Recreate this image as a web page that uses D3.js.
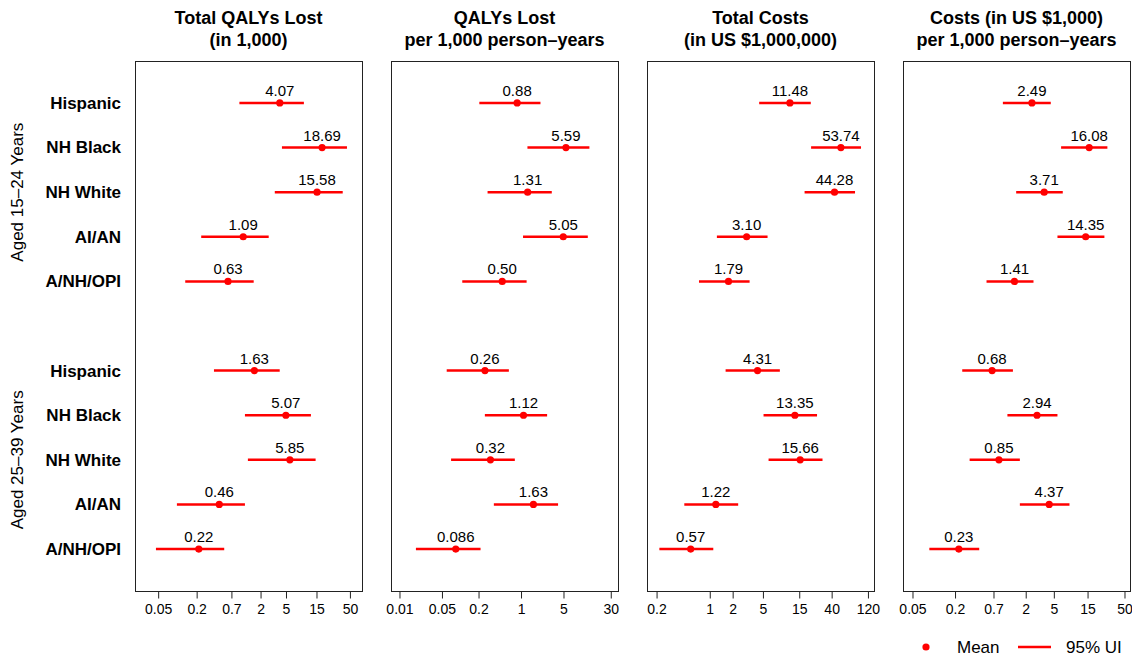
<!DOCTYPE html>
<html>
<head>
<meta charset="utf-8">
<script src="https://cdn.jsdelivr.net/npm/d3@7"></script>
<style>
  body { margin: 0; background: #fff; }
  svg { font-family: "Liberation Sans", Arial, Helvetica, sans-serif; }
</style>
</head>
<body>
<svg id="chart"></svg>
<script>
// rows, top to bottom
const groups = ["Aged 15–24 Years", "Aged 25–39 Years"];
const races = ["Hispanic", "NH Black", "NH White", "AI/AN", "A/NH/OPI"];

const panelTitles = [
  ["Total QALYs Lost", "(in 1,000)"],
  ["QALYs Lost", "per 1,000 person–years"],
  ["Total Costs", "(in US $1,000,000)"],
  ["Costs (in US $1,000)", "per 1,000 person–years"]
];

// mean + 95% UI, 15-24 first then 25-39
const totalQalyMean = [4.07, 18.69, 15.58, 1.09, 0.63, 1.63, 5.07, 5.85, 0.46, 0.22];
const totalQalyLo = [0.95, 4.4, 3.4, 0.24, 0.135, 0.38, 1.16, 1.29, 0.10, 0.047];
const totalQalyHi = [9.7, 45.8, 39.3, 2.73, 1.59, 4.06, 12.5, 14.8, 1.16, 0.55];

const rateQalyMean = [0.88, 5.59, 1.31, 5.05, 0.50, 0.26, 1.12, 0.32, 1.63, 0.086];
const rateQalyLo = [0.21, 1.30, 0.287, 1.10, 0.110, 0.061, 0.259, 0.072, 0.364, 0.019];
const rateQalyHi = [2.13, 13.6, 3.27, 12.8, 1.26, 0.643, 2.74, 0.806, 4.15, 0.220];

const totalCostMean = [11.48, 53.74, 44.28, 3.10, 1.79, 4.31, 13.35, 15.66, 1.22, 0.57];
const totalCostLo = [4.53, 21.8, 17.9, 1.26, 0.733, 1.64, 5.17, 6.02, 0.47, 0.221];
const totalCostHi = [21.6, 98.8, 82.4, 5.84, 3.39, 8.47, 26.1, 30.8, 2.40, 1.13];

const rateCostMean = [2.49, 16.08, 3.71, 14.35, 1.41, 0.68, 2.94, 0.85, 4.37, 0.23];
const rateCostLo = [0.966, 6.44, 1.49, 5.72, 0.567, 0.257, 1.12, 0.327, 1.68, 0.088];
const rateCostHi = [4.60, 29.1, 6.80, 26.4, 2.62, 1.34, 5.72, 1.68, 8.46, 0.447];

// log axis limits and ticks per panel
const xLimits = [[0.0221, 78.7], [0.00739, 40.2], [0.152, 146.3], [0.0373, 60.8]];
const xTicks = [
  [0.05, 0.2, 0.7, 2, 5, 15, 50],
  [0.01, 0.05, 0.2, 1, 5, 30],
  [0.2, 1, 2, 5, 15, 40, 120],
  [0.05, 0.2, 0.7, 2, 5, 15, 50]
];

const panels = [
  { mean: totalQalyMean, lo: totalQalyLo, hi: totalQalyHi },
  { mean: rateQalyMean, lo: rateQalyLo, hi: rateQalyHi },
  { mean: totalCostMean, lo: totalCostLo, hi: totalCostHi },
  { mean: rateCostMean, lo: rateCostLo, hi: rateCostHi }
];

const width = 1132;
const height = 659;
const plotTop = 61, plotBottom = 591;
const panelLeft = 135, panelWidth = 227, panelStep = 256;
const red = "#ff0000";

const svg = d3.select("#chart")
  .attr("width", width)
  .attr("height", height);

// row positions: 1..5, gap, 7..11 (R style 4% padding)
const rowPos = i => i < 5 ? i + 1 : i + 2;
const y = d3.scaleLinear().domain([0.06, 11.94]).range([plotTop, plotBottom]);

const labelFmt = v => v >= 0.1 ? v.toFixed(2) : v.toFixed(3);

// row labels
const rowNames = groups.flatMap(() => races);
svg.append("g")
  .selectAll("text")
  .data(rowNames)
  .join("text")
  .attr("x", 121)
  .attr("y", (d, i) => y(rowPos(i)))
  .attr("dy", "0.35em")
  .attr("text-anchor", "end")
  .style("font-weight", "bold")
  .style("font-size", "17px")
  .text(d => d);

// group labels, rotated
svg.append("g")
  .selectAll("text")
  .data(groups)
  .join("text")
  .attr("transform", (d, g) => `translate(23,${(y(rowPos(g * 5)) + y(rowPos(g * 5 + 4))) / 2}) rotate(-90)`)
  .attr("text-anchor", "middle")
  .style("font-size", "17px")
  .text(d => d);

panels.forEach((p, k) => {
  const x0 = panelLeft + k * panelStep;
  const x = d3.scaleLog().domain(xLimits[k]).range([x0, x0 + panelWidth]);
  const g = svg.append("g");

  // title
  g.append("text")
    .attr("x", x0 + panelWidth / 2)
    .attr("y", 24)
    .attr("text-anchor", "middle")
    .style("font-weight", "bold")
    .style("font-size", "18px")
    .selectAll("tspan")
    .data(panelTitles[k])
    .join("tspan")
    .attr("x", x0 + panelWidth / 2)
    .attr("dy", (d, i) => i ? 22 : 0)
    .text(d => d);

  // box
  g.append("rect")
    .attr("x", x0 + 0.5)
    .attr("y", plotTop + 0.5)
    .attr("width", panelWidth)
    .attr("height", plotBottom - plotTop)
    .attr("fill", "none")
    .attr("stroke", "#222")
    .attr("stroke-width", 1);

  // x axis
  const xAxis = d3.axisBottom(x)
    .tickValues(xTicks[k])
    .tickFormat(d => String(d))
    .tickSize(7)
    .tickPadding(6);

  g.append("g")
    .attr("transform", `translate(0.5,${plotBottom + 0.5})`)
    .call(xAxis)
    .call(a => a.select(".domain").remove())
    .call(a => a.selectAll("text")
      .style("font-size", "14px")
      .style("font-family", "'Liberation Sans', Arial, sans-serif")
      .attr("fill", "#000"))
    .call(a => a.selectAll("line").attr("stroke", "#222"));

  const idx = d3.range(p.mean.length);

  // uncertainty intervals
  g.selectAll("line.ui")
    .data(idx)
    .join("line")
    .attr("class", "ui")
    .attr("x1", i => x(p.lo[i]))
    .attr("x2", i => x(p.hi[i]))
    .attr("y1", i => y(rowPos(i)))
    .attr("y2", i => y(rowPos(i)))
    .attr("stroke", red)
    .attr("stroke-width", 2.5);

  // means
  g.selectAll("circle")
    .data(idx)
    .join("circle")
    .attr("cx", i => x(p.mean[i]))
    .attr("cy", i => y(rowPos(i)))
    .attr("r", 3.6)
    .attr("fill", red);

  // value labels
  g.selectAll("text.val")
    .data(idx)
    .join("text")
    .attr("class", "val")
    .attr("x", i => x(p.mean[i]))
    .attr("y", i => y(rowPos(i)) - 7)
    .attr("text-anchor", "middle")
    .style("font-size", "15px")
    .text(i => labelFmt(p.mean[i]));
});

// legend
const legend = svg.append("g").attr("transform", "translate(0,647)");
legend.append("circle")
  .attr("cx", 926)
  .attr("cy", 0)
  .attr("r", 3.6)
  .attr("fill", red);
legend.append("text")
  .attr("x", 957)
  .attr("dy", "0.35em")
  .style("font-size", "17px")
  .text("Mean");
legend.append("line")
  .attr("x1", 1018)
  .attr("x2", 1051)
  .attr("stroke", red)
  .attr("stroke-width", 2.5);
legend.append("text")
  .attr("x", 1066)
  .attr("dy", "0.35em")
  .style("font-size", "17px")
  .text("95% UI");
</script>
</body>
</html>
